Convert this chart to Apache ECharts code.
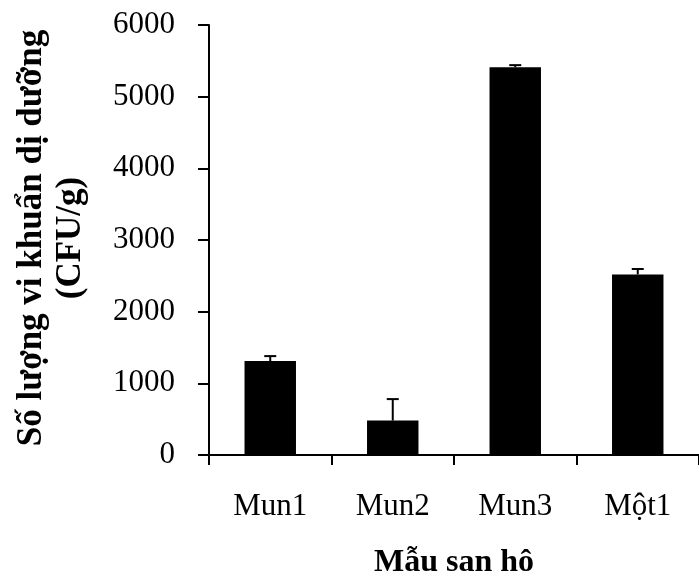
<!DOCTYPE html>
<html>
<head>
<meta charset="utf-8">
<script src="https://cdn.jsdelivr.net/npm/echarts@6/dist/echarts.min.js"></script>
<style>html,body{margin:0;padding:0;background:#fff}#c{width:699px;height:577px}</style>
</head>
<body>
<div id="c"></div>
<script>
var categories = ['Mun1', 'Mun2', 'Mun3', 'Một1'];
var values = [1310, 480, 5410, 2520];
var errors = [70, 300, 30, 75];
var yTicks = [0, 1000, 2000, 3000, 4000, 5000, 6000];

var chart = echarts.init(document.getElementById('c'));
var font = '"Liberation Serif", "Times New Roman", serif';
chart.setOption({
  animation: false,
  grid: {left: 209, right: -5, top: 25, bottom: 122, containLabel: false},
  xAxis: {
    type: 'category',
    data: categories,
    axisLine: {lineStyle: {color: '#000', width: 2}},
    axisTick: {show: true, alignWithLabel: false, length: 10, lineStyle: {color: '#000', width: 2}},
    axisLabel: {color: '#000', fontFamily: font, fontSize: 31, margin: 36},
    splitLine: {show: false}
  },
  yAxis: {
    type: 'value',
    min: yTicks[0],
    max: yTicks[yTicks.length - 1],
    interval: 1000,
    axisLine: {show: true, lineStyle: {color: '#000', width: 2}},
    axisTick: {show: true, length: 11, lineStyle: {color: '#000', width: 2}},
    axisLabel: {color: '#000', fontFamily: font, fontSize: 31, margin: 34, formatter: function (v) { return String(v); }},
    splitLine: {show: false}
  },
  graphic: [
    {
      type: 'text',
      x: 454, y: 563,
      style: {text: 'Mẫu san hô', font: 'bold 32px ' + font, fill: '#000', align: 'center', verticalAlign: 'middle'}
    },
    {
      type: 'text',
      x: 51, y: 238,
      rotation: Math.PI / 2,
      style: {text: 'Số lượng vi khuẩn dị dưỡng\n(CFU/g)', font: 'bold 35px ' + font, lineHeight: 39, fill: '#000', align: 'center', verticalAlign: 'middle'}
    }
  ],
  series: [
    {
      type: 'bar',
      data: values,
      barWidth: '42%',
      itemStyle: {color: '#000'}
    },
    {
      type: 'custom',
      data: values.map(function (v, i) { return [i, v, v + errors[i]]; }),
      renderItem: function (params, api) {
        var base = api.coord([api.value(0), api.value(1)]);
        var top = api.coord([api.value(0), api.value(2)]);
        var hw = 6;
        return {
          type: 'group',
          children: [
            {type: 'line', shape: {x1: base[0], y1: base[1], x2: top[0], y2: top[1]}, style: {stroke: '#000', lineWidth: 2}},
            {type: 'line', shape: {x1: top[0] - hw, y1: top[1], x2: top[0] + hw, y2: top[1]}, style: {stroke: '#000', lineWidth: 2}}
          ]
        };
      },
      z: 3
    }
  ]
});
</script>
</body>
</html>
